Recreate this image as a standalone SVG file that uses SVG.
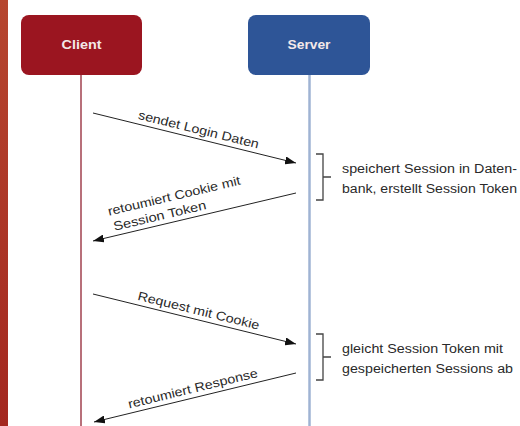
<svg xmlns="http://www.w3.org/2000/svg" width="520" height="426" viewBox="0 0 520 426">
  <defs>
    <linearGradient id="bar" x1="0" y1="0" x2="0" y2="1">
      <stop offset="0" stop-color="#b6462f"/>
      <stop offset="1" stop-color="#a3271f"/>
    </linearGradient>
    <marker id="ah" viewBox="0 0 11 8" refX="11" refY="4" markerWidth="11" markerHeight="8" markerUnits="userSpaceOnUse" orient="auto">
      <path d="M0,0 L11,4 L0,8 Z" fill="#111"/>
    </marker>
    <style>
      .lbl { font-family: "Liberation Sans", Arial, sans-serif; font-size: 12.5px; fill: #2a2a2a; }
      .head { font-family: "Liberation Sans", Arial, sans-serif; font-size: 13px; font-weight: bold; fill: #f4e8e8; text-anchor: middle; }
      .msg { stroke: #222; stroke-width: 1; fill: none; marker-end: url(#ah); }
      .brace { stroke: #444; stroke-width: 1.3; fill: none; }
    </style>
  </defs>
  <rect width="520" height="426" fill="#ffffff"/>
  <rect x="0" y="0" width="8" height="426" fill="url(#bar)"/>

  <g id="client">
    <line x1="81" y1="75" x2="81" y2="426" stroke="#b8707a" stroke-width="2"/>
    <rect x="21" y="15" width="121" height="60" rx="8" fill="#9b1520"/>
    <text class="head" x="81.5" y="49" textLength="40" lengthAdjust="spacingAndGlyphs">Client</text>
  </g>

  <g id="server">
    <line x1="309.5" y1="75" x2="309.5" y2="426" stroke="#9fb3d3" stroke-width="2.5"/>
    <rect x="248" y="15" width="122" height="60" rx="8" fill="#2e5597"/>
    <text class="head" x="309" y="49" textLength="43" lengthAdjust="spacingAndGlyphs">Server</text>
  </g>

  <g id="connectors">
    <line class="msg" x1="93" y1="113" x2="296" y2="163"/>
    <line class="msg" x1="296" y1="193" x2="93" y2="241"/>
    <line class="msg" x1="93" y1="294" x2="296" y2="344"/>
    <line class="msg" x1="296" y1="373" x2="94" y2="422"/>
  </g>

  <g id="msg-labels">
    <text class="lbl" transform="translate(194.5,138) rotate(13.84)" x="2" y="-5" text-anchor="middle" textLength="124" lengthAdjust="spacingAndGlyphs">sendet Login Daten</text>
    <g transform="translate(194.5,217) rotate(-13.3)">
      <text class="lbl" x="-83" y="-21" textLength="136" lengthAdjust="spacingAndGlyphs">retoumiert Cookie mit</text>
      <text class="lbl" x="-81" y="-5" textLength="95" lengthAdjust="spacingAndGlyphs">Session Token</text>
    </g>
    <text class="lbl" transform="translate(194.5,319) rotate(13.84)" x="2" y="-5" text-anchor="middle" textLength="125" lengthAdjust="spacingAndGlyphs">Request mit Cookie</text>
    <text class="lbl" transform="translate(195,397.5) rotate(-13.77)" x="0" y="-5" text-anchor="middle" textLength="133" lengthAdjust="spacingAndGlyphs">retoumiert Response</text>
  </g>

  <g id="note1">
    <path class="brace" d="M316,154 H323 V200 H316 M323,177 H331"/>
    <text class="lbl" x="342" y="173" textLength="175" lengthAdjust="spacingAndGlyphs">speichert Session in Daten-</text>
    <text class="lbl" x="342" y="192.5" textLength="175" lengthAdjust="spacingAndGlyphs">bank, erstellt Session Token</text>
  </g>

  <g id="note2">
    <path class="brace" d="M316,334 H323 V380 H316 M323,357 H331"/>
    <text class="lbl" x="342" y="353" textLength="161" lengthAdjust="spacingAndGlyphs">gleicht Session Token mit</text>
    <text class="lbl" x="342" y="373" textLength="171" lengthAdjust="spacingAndGlyphs">gespeicherten Sessions ab</text>
  </g>
</svg>
